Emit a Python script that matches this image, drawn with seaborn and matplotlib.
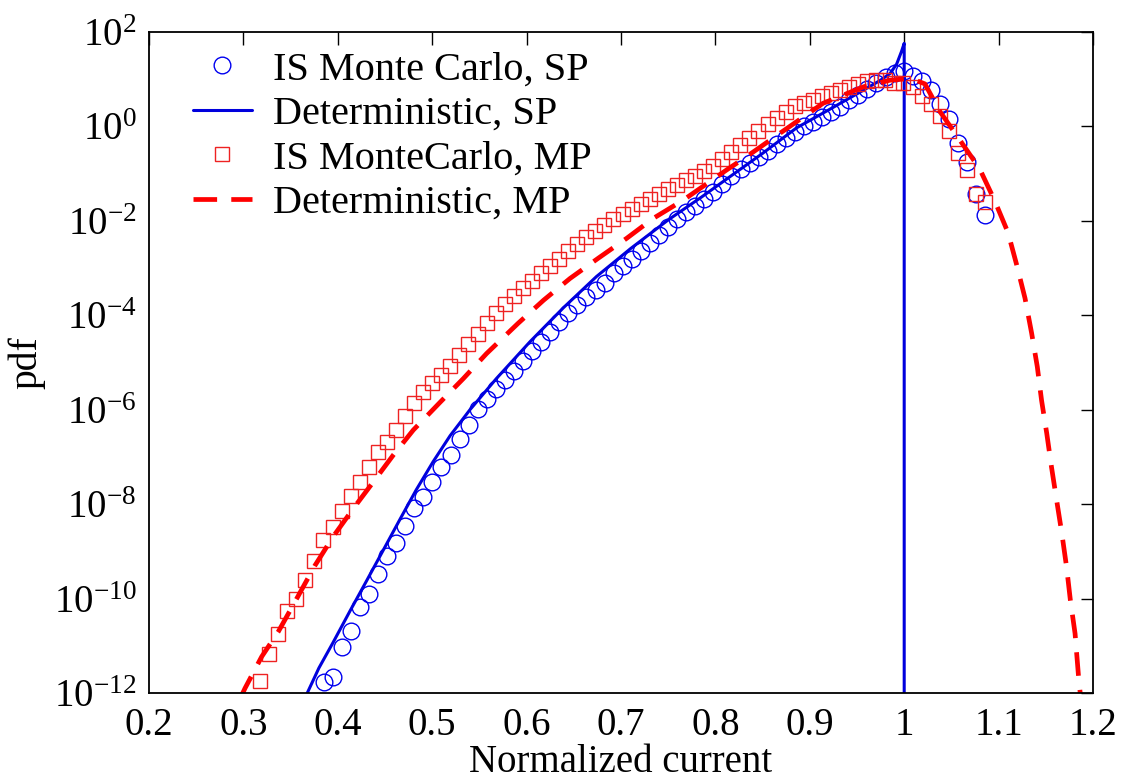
import numpy as np
import pandas as pd
import matplotlib
matplotlib.use('Agg')
import matplotlib.pyplot as plt
import seaborn as sns
from matplotlib.ticker import FixedLocator, FuncFormatter, NullLocator, LogFormatterMathtext

# IS Monte Carlo, SP: histogram bins (start, width) and log10(pdf)
sp_mc_start, sp_mc_step = 0.385, 0.0096
sp_mc_log = [-11.77, -11.66, -11.02, -10.68, -10.18, -9.91, -9.47, -9.10, -8.83, -8.46,
             -8.09, -7.84, -7.53, -7.21, -6.96, -6.62, -6.33, -5.99, -5.78, -5.56,
             -5.38, -5.18, -4.96, -4.75, -4.56, -4.36, -4.15, -3.96, -3.78, -3.61,
             -3.46, -3.31, -3.10, -2.95, -2.81, -2.64, -2.47, -2.31, -2.12, -1.96,
             -1.82, -1.68, -1.53, -1.38, -1.22, -1.06, -0.91, -0.78, -0.64, -0.51,
             -0.37, -0.24, -0.11, 0.00, 0.10, 0.20, 0.30, 0.42, 0.55, 0.67,
             0.80, 0.93, 1.04, 1.13, 1.17, 1.07, 0.97, 0.77, 0.48, 0.16,
             -0.36, -0.75, -1.43, -1.88]

# IS MonteCarlo, MP
mp_mc_start, mp_mc_step = 0.3176, 0.0096
mp_mc_log = [-11.75, -11.18, -10.75, -10.27, -10.00, -9.60, -9.20, -8.75, -8.48, -8.15,
             -7.82, -7.53, -7.22, -6.89, -6.68, -6.43, -6.14, -5.85, -5.62, -5.44,
             -5.27, -5.07, -4.84, -4.61, -4.39, -4.17, -3.96, -3.77, -3.60, -3.43,
             -3.27, -3.11, -2.95, -2.80, -2.64, -2.48, -2.34, -2.22, -2.09, -1.97,
             -1.86, -1.75, -1.64, -1.53, -1.43, -1.33, -1.24, -1.14, -1.04, -0.95,
             -0.83, -0.69, -0.55, -0.40, -0.25, -0.09, 0.05, 0.18, 0.30, 0.43,
             0.50, 0.57, 0.64, 0.71, 0.77, 0.83, 0.89, 0.96, 0.98, 0.98,
             0.93, 0.91, 0.84, 0.65, 0.48, 0.22, -0.10, -0.57, -0.92, -1.44,
             -1.61]

# Deterministic, SP
sp_det_x = [0.3665, 0.38, 0.395, 0.413, 0.4306, 0.448, 0.4659, 0.483, 0.501, 0.519,
            0.54, 0.568, 0.6036, 0.639, 0.674, 0.71, 0.75, 0.785, 0.815, 0.85,
            0.886, 0.92, 0.957, 0.975, 0.985, 0.992, 0.997, 1.0, 1.0]
sp_det_log = [-12.05, -11.47, -10.93, -10.26, -9.62, -8.98, -8.32, -7.70, -7.10, -6.55,
              -6.00, -5.34, -4.56, -3.84, -3.18, -2.59, -1.98, -1.50, -1.07, -0.57,
              -0.03, 0.35, 0.77, 0.98, 1.12, 1.32, 1.58, 1.76, -13.0]

# Deterministic, MP
mp_det_x = [0.297, 0.3017, 0.3194, 0.337, 0.3565, 0.3758, 0.395, 0.4165, 0.4376, 0.4588,
            0.48, 0.508, 0.533, 0.5576, 0.591, 0.618, 0.646, 0.676, 0.706, 0.734,
            0.766, 0.812, 0.833, 0.868, 0.914, 0.957, 0.985, 1.003, 1.012, 1.022,
            1.038, 1.059, 1.080, 1.096, 1.110, 1.119, 1.128, 1.135, 1.141, 1.1455,
            1.151, 1.156, 1.1615, 1.167, 1.172, 1.176, 1.181, 1.185, 1.187]
mp_det_log = [-12.1, -11.90, -11.23, -10.70, -10.00, -9.30, -8.69, -8.09, -7.53, -6.96,
              -6.43, -5.85, -5.34, -4.81, -4.17, -3.68, -3.22, -2.79, -2.37, -1.95,
              -1.56, -0.92, -0.64, -0.15, 0.49, 0.84, 0.98, 1.01, 0.98, 0.90,
              0.31, -0.29, -0.90, -1.58, -2.25, -2.92, -3.64, -4.38, -5.09, -5.80,
              -6.50, -7.21, -7.92, -8.62, -9.33, -10.03, -10.74, -11.73, -12.1]

x_ticks = [0.2, 0.3, 0.4, 0.5, 0.6, 0.7, 0.8, 0.9, 1.0, 1.1, 1.2]
y_ticks = [1e-12, 1e-10, 1e-8, 1e-6, 1e-4, 1e-2, 1e0, 1e2]

sp_mc = pd.DataFrame({'x': sp_mc_start + sp_mc_step * np.arange(len(sp_mc_log)),
                      'pdf': 10.0 ** np.array(sp_mc_log)})
mp_mc = pd.DataFrame({'x': mp_mc_start + mp_mc_step * np.arange(len(mp_mc_log)),
                      'pdf': 10.0 ** np.array(mp_mc_log)})
sp_det = pd.DataFrame({'x': sp_det_x, 'pdf': 10.0 ** np.array(sp_det_log)})
mp_det = pd.DataFrame({'x': mp_det_x, 'pdf': 10.0 ** np.array(mp_det_log)})

sns.set_style("white")
plt.rcParams['font.family'] = ['Liberation Serif', 'DejaVu Serif']
plt.rcParams['mathtext.fontset'] = 'custom'
plt.rcParams['mathtext.rm'] = 'Liberation Serif'
plt.rcParams['mathtext.it'] = 'Liberation Serif:italic'
plt.rcParams['mathtext.bf'] = 'Liberation Serif:bold'
plt.rcParams['text.color'] = 'black'
plt.rcParams['axes.labelcolor'] = 'black'
plt.rcParams['xtick.color'] = 'black'
plt.rcParams['ytick.color'] = 'black'

fig = plt.figure(figsize=(11.29, 7.82), dpi=100)
ax = fig.add_axes([149 / 1129, 89 / 782, 944 / 1129, 661 / 782])

sns.lineplot(data=sp_mc, x='x', y='pdf', ax=ax, estimator=None, sort=False,
             linestyle='', marker='o', markersize=12, mfc='none', mec='#0000F0',
             mew=1.0, label='IS Monte Carlo, SP')
sns.lineplot(data=sp_det, x='x', y='pdf', ax=ax, estimator=None, sort=False,
             color='#0000DD', linewidth=2.2, label='Deterministic, SP')
sns.lineplot(data=mp_mc, x='x', y='pdf', ax=ax, estimator=None, sort=False,
             linestyle='', marker='s', markersize=10, mfc='none', mec='#EE2222',
             mew=1.0, label='IS MonteCarlo, MP')
sns.lineplot(data=mp_det, x='x', y='pdf', ax=ax, estimator=None, sort=False,
             color='#FF0000', linewidth=3.4, dashes=(5, 3), label='Deterministic, MP')

ax.set_yscale('log')
ax.set_xlim(0.2, 1.2)
ax.set_ylim(1e-12, 1e2)
ax.xaxis.set_major_locator(FixedLocator(x_ticks))
ax.xaxis.set_major_formatter(FuncFormatter(lambda v, p: '%g' % v))
ax.yaxis.set_major_locator(FixedLocator(y_ticks))
ax.yaxis.set_major_formatter(LogFormatterMathtext())
ax.yaxis.set_minor_locator(NullLocator())
ax.xaxis.set_minor_locator(NullLocator())

ax.tick_params(axis='both', direction='in', length=9, width=1.0, color='black',
               top=True, right=True, labelsize=28)
ax.tick_params(axis='x', pad=10)
ax.tick_params(axis='y', pad=9)
for s in ax.spines.values():
    s.set_color('black')
    s.set_linewidth(1.3)

ax.set_xlabel('Normalized current', fontsize=28, labelpad=0)
ax.set_ylabel('pdf', fontsize=28.5, labelpad=6)

ax.legend(loc='upper left', bbox_to_anchor=(0.0466, 0.971), frameon=False,
          fontsize=29, borderaxespad=0, borderpad=0, labelspacing=0.18,
          handlelength=1.46, handletextpad=0.52, numpoints=1)

fig.savefig('out.png', dpi=100)
